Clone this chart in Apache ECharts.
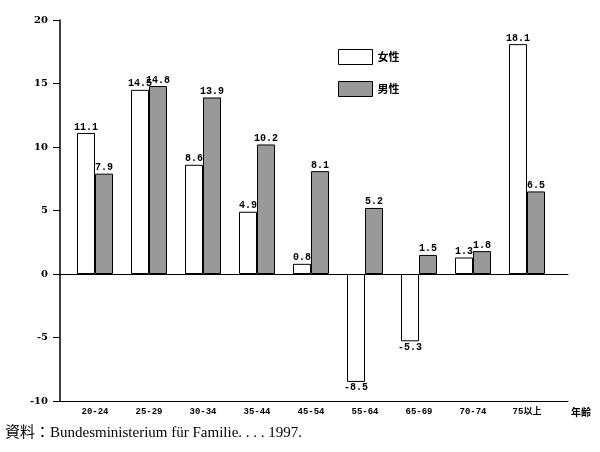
<!DOCTYPE html>
<html><head><meta charset="utf-8">
<script src="https://cdn.jsdelivr.net/npm/echarts@6/dist/echarts.min.js"></script>
<style>html,body{margin:0;padding:0;background:#fff}#c{width:600px;height:452px}</style>
</head><body><div id="c"></div>
<script>
const categories = ['20-24','25-29','30-34','35-44','45-54','55-64','65-69','70-74','75以上'];
const female = [11.1, 14.5, 8.6, 4.9, 0.8, -8.5, -5.3, 1.3, 18.1];
const male = [7.9, 14.8, 13.9, 10.2, 8.1, 5.2, 1.5, 1.8, 6.5];
const yTicks = {min: -10, max: 20, interval: 5};
const seriesNames = ['女性', '男性'];
const xName = '年齢';
const caption = '資料：Bundesministerium für Familie. . . . 1997.';

const chart = echarts.init(document.getElementById('c'));
const monoFont = '"Liberation Mono", "DejaVu Sans Mono", monospace';
const cjk = '"Noto Sans CJK JP", sans-serif';
const label = {show: true, position: 'top', distance: 1, color: '#000', fontFamily: monoFont, fontWeight: 'bold', fontSize: 10,
  formatter: p => p.value.toFixed(1)};
function mk(name, data, color) {
  return {
    name, type: 'bar', data: data.map(v => ({value: v, label: v < 0 ? {position: 'bottom'} : {}})),
    barWidth: 18, barGap: '0%',
    itemStyle: {color, borderColor: '#000', borderWidth: 1},
    label, xAxisIndex: 0, yAxisIndex: 0
  };
}
chart.setOption({
  animation: false,
  backgroundColor: '#fff',
  grid: [
    {left: 68, right: 46, top: 20, bottom: 51},
    {left: 60, right: 32, top: 20, bottom: 51}
  ],
  legend: {
    orient: 'vertical', left: 338, top: 49, padding: 0, itemWidth: 34, itemHeight: 15, itemGap: 16,
    icon: 'rect', data: seriesNames,
    textStyle: {fontFamily: cjk, fontWeight: 'bold', fontSize: 11, color: '#000'},
    itemStyle: {borderColor: '#000', borderWidth: 1}
  },
  xAxis: [
    {type: 'category', gridIndex: 0, data: categories,
      axisLine: {show: false}, axisTick: {show: false},
      axisLabel: {color: '#000', fontFamily: monoFont + ', ' + cjk, fontWeight: 'bold', fontSize: 9, margin: 6}},
    {type: 'category', gridIndex: 1, data: [], axisLine: {onZero: true, lineStyle: {color: '#000', width: 1}}, axisTick: {show: false}, axisLabel: {show: false}},
    {type: 'category', gridIndex: 1, data: [], position: 'bottom', axisLine: {onZero: false, lineStyle: {color: '#000', width: 1}}, axisTick: {show: false}, axisLabel: {show: false},
      name: xName, nameLocation: 'end', nameGap: 3,
      nameTextStyle: {fontFamily: cjk, fontWeight: 'bold', fontSize: 10, color: '#000', verticalAlign: 'top', padding: [6, 0, 0, 0]}}
  ],
  yAxis: [
    {type: 'value', gridIndex: 0, min: yTicks.min, max: yTicks.max, interval: yTicks.interval, offset: 8,
      axisLine: {show: true, lineStyle: {color: '#000', width: 1.5}},
      axisTick: {show: true, length: 7, lineStyle: {color: '#000'}},
      splitLine: {show: false},
      axisLabel: {color: '#000', fontFamily: '"DejaVu Serif", serif', fontWeight: 'bold', fontSize: 10, margin: 12}},
    {type: 'value', gridIndex: 1, min: yTicks.min, max: yTicks.max, interval: yTicks.interval, show: false}
  ],
  series: [mk(seriesNames[0], female, '#ffffff'), mk(seriesNames[1], male, '#999999')],
  graphic: [{type: 'text', left: 5, top: 426, style: {text: caption, fontFamily: '"Liberation Serif", "Noto Sans CJK JP", serif', fontSize: 15, fill: '#000'}}]
});
</script></body></html>
